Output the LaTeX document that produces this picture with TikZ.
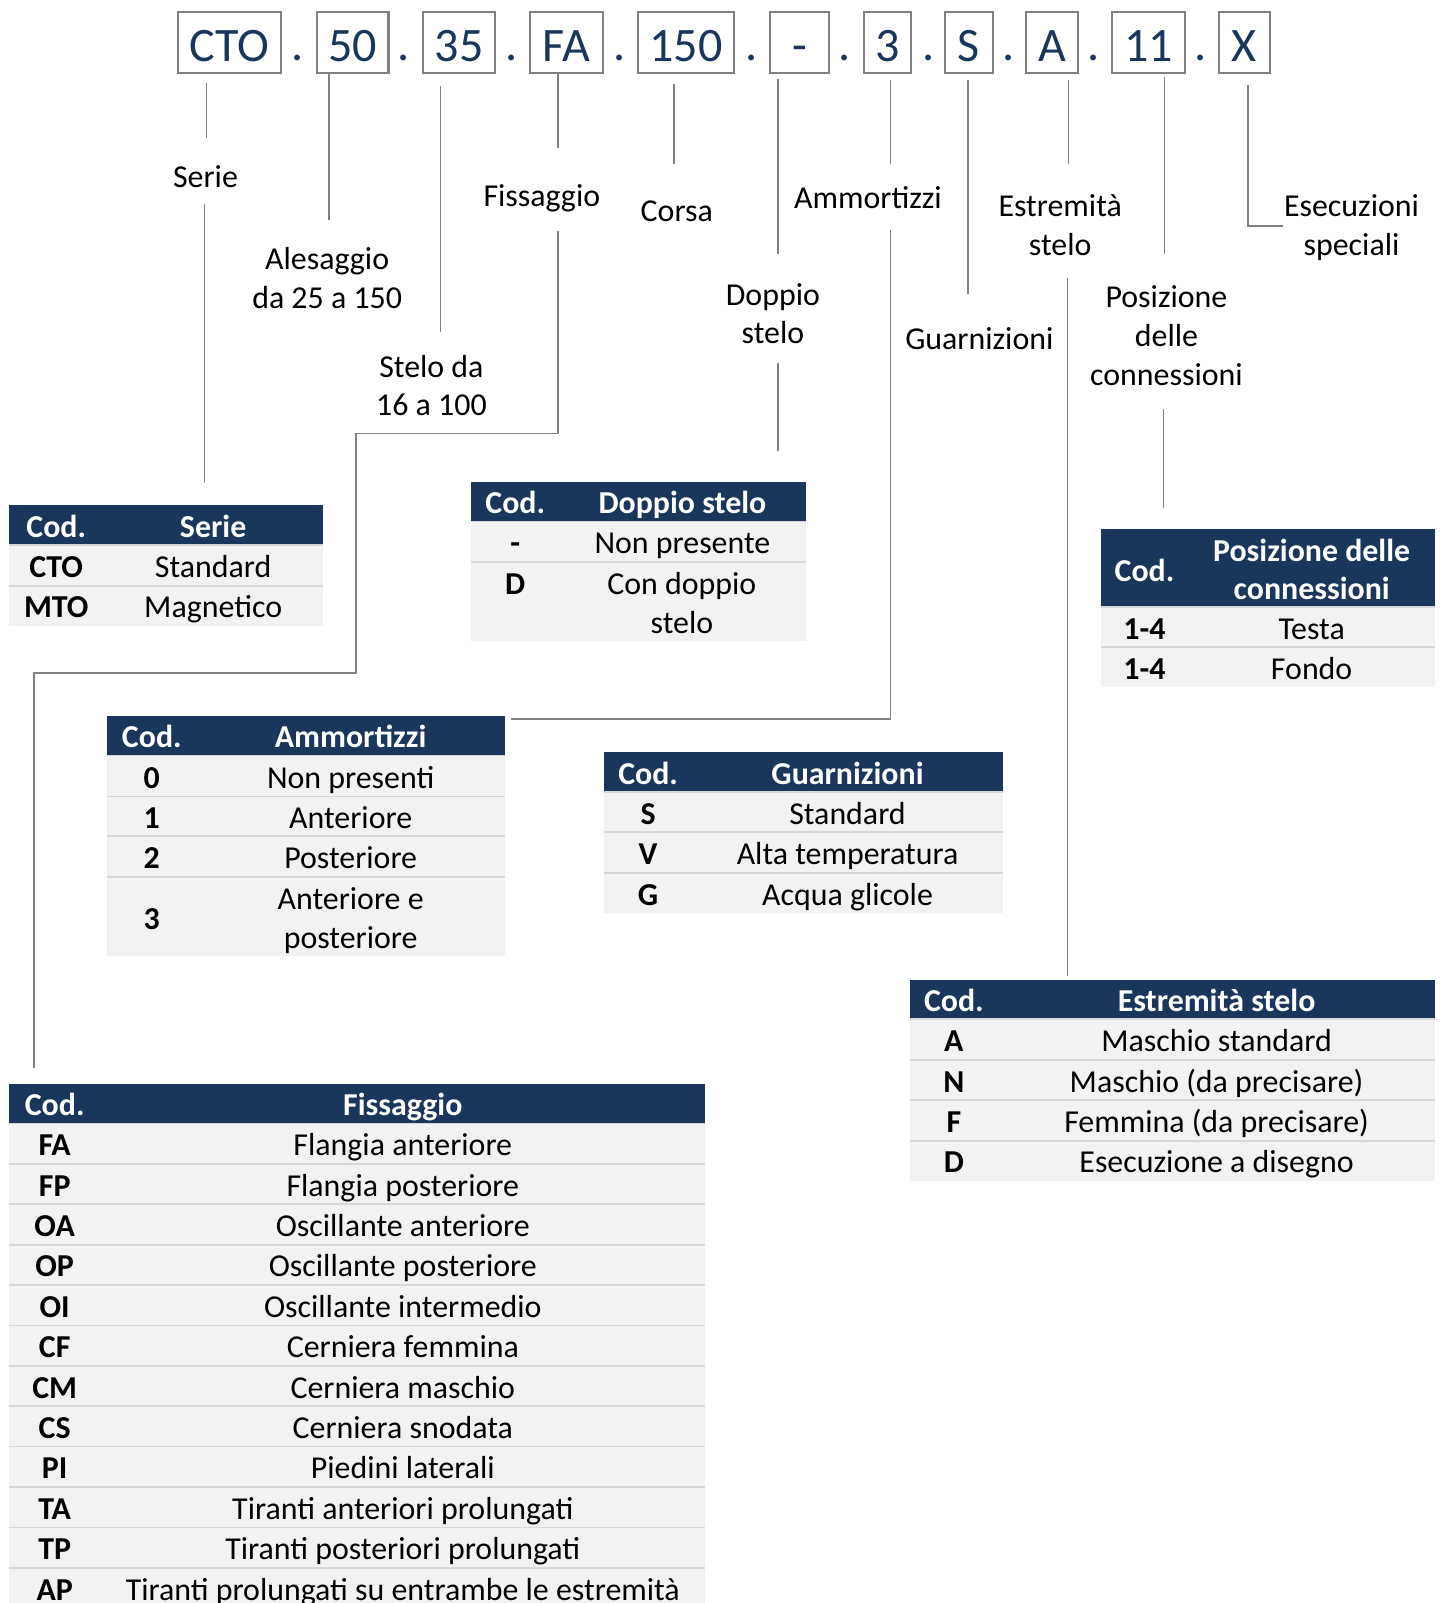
\documentclass[tikz,border=0pt]{standalone}
\usepackage{fontspec}
\setmainfont{Carlito}
\definecolor{navy}{RGB}{26,54,93}
\definecolor{rowgray}{RGB}{242,242,242}
\definecolor{sepgray}{RGB}{215,215,215}
\definecolor{linegray}{RGB}{128,128,128}
\newcommand\fs{\fontsize{15.6}{19}\selectfont}
\newcommand\tabrow[8]{%
  \fill[rowgray] (#2,#5) rectangle (#4,#6);
  \draw[sepline] (#2,#5) -- (#4,#5);
  \node[ccell] (#1c) at ({(#2+#3)/2},{(#5+#6)/2}) {#7};
  \node[dcell] (#1d) at ({(#3+#4)/2},{(#5+#6)/2}) {#8};}
\newcommand\tabhead[8]{%
  \fill[navy] (#2,#5) rectangle (#4,#6);
  \node[hcell] (#1c) at ({(#2+#3)/2},{(#5+#6)/2}) {#7};
  \node[hcell] (#1d) at ({(#3+#4)/2},{(#5+#6)/2}) {#8};}
\begin{document}
\begin{tikzpicture}[x=0.5pt,y=-0.5pt,
  codebox/.style={draw=linegray, line width=1pt, text=navy, font=\fontsize{23.5}{28}\selectfont,
    inner sep=0pt, text height=23.85pt, text depth=5.65pt, anchor=north west, minimum height=29.5pt},
  codedot/.style={text=navy, font=\fontsize{23.5}{28}\selectfont, anchor=base, inner sep=0pt},
  lbl/.style={font=\fs, inner sep=0pt, text height=14.8pt, text depth=3pt},
  conn/.style={draw=linegray, line width=0.8pt},
  sepline/.style={draw=sepgray, line width=0.8pt},
  hcell/.style={font=\fs\bfseries, text=white, inner sep=0pt, text height=14.8pt, text depth=3pt},
  ccell/.style={font=\fs\bfseries, inner sep=0pt, text height=14.8pt, text depth=3pt},
  dcell/.style={font=\fs, inner sep=0pt, text height=14.8pt, text depth=3pt},
]
\useasboundingbox (0,0) rectangle (1410,1568);
\clip (0,0) rectangle (1410,1568);

% ---- code boxes ----
\node[codebox, minimum width=50.5pt] (bCTO) at (173,11) {CTO};
\node[codebox, minimum width=35pt] (b50) at (309,11) {50};
\node[codebox, minimum width=35pt] (b35) at (413,11) {35};
\node[codebox, minimum width=36pt] (bFA) at (517,11) {FA};
\node[codebox, minimum width=47pt] (b150) at (623,11) {150};
\node[codebox, minimum width=29pt] (bDash) at (752,11) {-};
\node[codebox, minimum width=23pt] (b3) at (844,11) {3};
\node[codebox, minimum width=23.5pt] (bS) at (923,11) {S};
\node[codebox, minimum width=25pt] (bA) at (1003,11) {A};
\node[codebox, minimum width=35.5pt] (b11) at (1087,11) {11};
\node[codebox, minimum width=25pt] (bX) at (1191,11) {X};
\node[codedot] (d1) at (291,58.7) {.};
\node[codedot] (d2) at (395,58.7) {.};
\node[codedot] (d3) at (500,58.7) {.};
\node[codedot] (d4) at (606,58.7) {.};
\node[codedot] (d5) at (735,58.7) {.};
\node[codedot] (d6) at (826,58.7) {.};
\node[codedot] (d7) at (908,58.7) {.};
\node[codedot] (d8) at (987,58.7) {.};
\node[codedot] (d9) at (1070,58.7) {.};
\node[codedot] (d10) at (1174,58.7) {.};

% ---- labels ----
\node[lbl] (lSerie) at (201,172) {Serie};
\node[lbl] (lAles1) at (320,252) {Alesaggio};
\node[lbl] (lAles2) at (320,290) {da 25 a 150};
\node[lbl] (lStelo1) at (422,357) {Stelo da};
\node[lbl] (lStelo2) at (422,395) {16 a 100};
\node[lbl] (lFiss) at (530,190) {Fissaggio};
\node[lbl] (lCorsa) at (662,205) {Corsa};
\node[lbl] (lDopp1) at (756,287) {Doppio};
\node[lbl] (lDopp2) at (756,324) {stelo};
\node[lbl] (lAmm) at (849,192) {Ammortizzi};
\node[lbl] (lGuar) at (958,330) {Guarnizioni};
\node[lbl] (lEst1) at (1037,200) {Estremità};
\node[lbl] (lEst2) at (1037,238) {stelo};
\node[lbl] (lPos1) at (1141,289) {Posizione};
\node[lbl] (lPos2) at (1141,327) {delle};
\node[lbl] (lPos3) at (1141,365) {connessioni};
\node[lbl] (lEse1) at (1322,200) {Esecuzioni};
\node[lbl] (lEse2) at (1322,238) {speciali};

% ---- connectors ----
\coordinate (c1a) at (202,81);  \coordinate (c1b) at (202,135);
\coordinate (c1c) at (200,200); \coordinate (c1d) at (200,472);
\coordinate (c2a) at (322,72);  \coordinate (c2b) at (322,215);
\coordinate (c3a) at (431,84);  \coordinate (c3b) at (431,325);
\coordinate (c4a) at (546,72);  \coordinate (c4b) at (546,145);
\coordinate (c4c) at (546,226); \coordinate (c4d) at (546,424);
\coordinate (c4e) at (348,424); \coordinate (c4f) at (348,658);
\coordinate (c4g) at (33,658);  \coordinate (c4h) at (33,1045);
\coordinate (c5a) at (659,82);  \coordinate (c5b) at (659,160);
\coordinate (c6a) at (761,77);  \coordinate (c6b) at (761,248);
\coordinate (c6c) at (761,355); \coordinate (c6d) at (761,441);
\coordinate (c7a) at (871,78);  \coordinate (c7b) at (871,160);
\coordinate (c7c) at (871,225); \coordinate (c7d) at (871,703);
\coordinate (c7e) at (500,703);
\coordinate (c8a) at (947,78);  \coordinate (c8b) at (947,288);
\coordinate (c8c) at (948,362); \coordinate (c8d) at (948,740);
\coordinate (c9a) at (1045,78); \coordinate (c9b) at (1045,160);
\coordinate (c9c) at (1044,272);\coordinate (c9d) at (1044,955);
\coordinate (c10a) at (1139,75);\coordinate (c10b) at (1139,248);
\coordinate (c10c) at (1138,400);\coordinate (c10d) at (1138,497);
\coordinate (c11a) at (1221,83);\coordinate (c11b) at (1221,221);
\coordinate (c11c) at (1255,221);

\draw[conn] (c1a) -- (c1b);
\draw[conn] (c1c) -- (c1d);
\draw[conn] (c2a) -- (c2b);
\draw[conn] (c3a) -- (c3b);
\draw[conn] (c4a) -- (c4b);
\draw[conn] (c4c) -- (c4d) -- (c4e) -- (c4f) -- (c4g) -- (c4h);
\draw[conn] (c5a) -- (c5b);
\draw[conn] (c6a) -- (c6b);
\draw[conn] (c6c) -- (c6d);
\draw[conn] (c7a) -- (c7b);
\draw[conn] (c7c) -- (c7d) -- (c7e);
\draw[conn] (c8a) -- (c8b);
\draw[conn] (c9a) -- (c9b);
\draw[conn] (c9c) -- (c9d);
\draw[conn] (c10a) -- (c10b);
\draw[conn] (c10c) -- (c10d);
\draw[conn] (c11a) -- (c11b) -- (c11c);

% ---- table: Serie ----
\tabhead{serh}{9}{101}{316}{494}{533}{Cod.}{Serie}
\tabrow{ser1}{9}{101}{316}{533}{573}{CTO}{Standard}
\tabrow{ser2}{9}{101}{316}{573}{612}{MTO}{Magnetico}

% ---- table: Doppio stelo ----
\tabhead{doph}{461}{547}{788}{471}{510}{Cod.}{Doppio stelo}
\tabrow{dop1}{461}{547}{788}{510}{550}{-}{Non presente}
\fill[rowgray] (461,550) rectangle (788,627);
\draw[sepline] (461,550) -- (788,550);
\node[ccell] (dop2c) at (504,570) {D};
\node[dcell] (dop2d) at (667,570) {Con doppio};
\node[dcell] (dop2e) at (667,608) {stelo};

% ---- table: Ammortizzi ----
\tabhead{ammh}{105}{192}{494}{700}{739}{Cod.}{Ammortizzi}
\tabrow{amm0}{105}{192}{494}{739}{779}{0}{Non presenti}
\tabrow{amm1}{105}{192}{494}{779}{818}{1}{Anteriore}
\tabrow{amm2}{105}{192}{494}{818}{858}{2}{Posteriore}
\fill[rowgray] (105,858) rectangle (494,935);
\draw[sepline] (105,858) -- (494,858);
\node[ccell] (amm3c) at (148.5,897) {3};
\node[dcell] (amm3d) at (343,878) {Anteriore e};
\node[dcell] (amm3e) at (343,916) {posteriore};

% ---- table: Guarnizioni ----
\tabhead{guah}{591}{677}{981}{736}{775}{Cod.}{Guarnizioni}
\tabrow{gua1}{591}{677}{981}{775}{814}{S}{Standard}
\tabrow{gua2}{591}{677}{981}{814}{854}{V}{Alta temperatura}
\tabrow{gua3}{591}{677}{981}{854}{893}{G}{Acqua glicole}

% ---- table: Posizione delle connessioni ----
\fill[navy] (1077,517) rectangle (1404,594);
\node[hcell] (posc) at (1119.5,557) {Cod.};
\node[hcell] (posd) at (1283,537) {Posizione delle};
\node[hcell] (pose) at (1283,575) {connessioni};
\tabrow{pos1}{1077}{1162}{1404}{594}{633}{1-4}{Testa}
\tabrow{pos2}{1077}{1162}{1404}{633}{672}{1-4}{Fondo}

% ---- table: Estremita stelo ----
\tabhead{esth}{890}{976}{1404}{959}{997}{Cod.}{Estremità stelo}
\tabrow{est1}{890}{976}{1404}{997}{1037}{A}{Maschio standard}
\tabrow{est2}{890}{976}{1404}{1037}{1076}{N}{Maschio (da precisare)}
\tabrow{est3}{890}{976}{1404}{1076}{1116}{F}{Femmina (da precisare)}
\tabrow{est4}{890}{976}{1404}{1116}{1155}{D}{Esecuzione a disegno}

% ---- table: Fissaggio ----
\tabhead{fxh}{9}{98}{690}{1060}{1099}{Cod.}{Fissaggio}
\foreach \c/\d [count=\i from 0] in {FA/Flangia anteriore, FP/Flangia posteriore,
  OA/Oscillante anteriore, OP/Oscillante posteriore, OI/Oscillante intermedio,
  CF/Cerniera femmina, CM/Cerniera maschio, CS/Cerniera snodata, PI/Piedini laterali,
  TA/Tiranti anteriori prolungati, TP/Tiranti posteriori prolungati,
  AP/Tiranti prolungati su entrambe le estremità}{
  \pgfmathsetmacro\yt{1099+39.5*\i}
  \pgfmathsetmacro\yb{\yt+39.5}
  \tabrow{fx\i}{9}{98}{690}{\yt}{\yb}{\c}{\d}
}
\end{tikzpicture}
\end{document}
